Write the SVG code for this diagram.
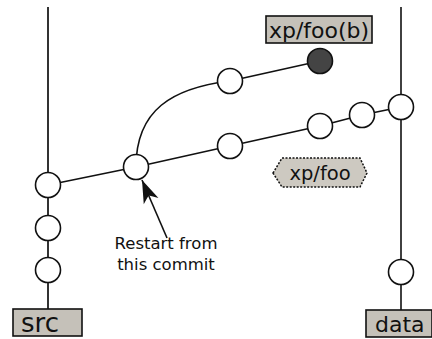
<svg xmlns="http://www.w3.org/2000/svg" width="432" height="339" viewBox="0 0 432 339">
<style>
.commit{fill:#fff;stroke:#111;stroke-width:1.6}
.head{fill:#444;stroke:#111;stroke-width:1.6}
.edge{fill:none;stroke:#111;stroke-width:1.6}
.branch{fill:#c5c1b9;stroke:#111;stroke-width:1.6}
.lbl{font-family:"DejaVu Sans",sans-serif;fill:#111}
</style>
<defs>
<marker id="arr" markerUnits="userSpaceOnUse" markerWidth="30" markerHeight="20" viewBox="-24 -10 26 20" refX="0" refY="0" orient="auto">
<path d="M0,0 L-23,-8 Q-19,-3 -17,0 Q-19,3 -23,8 Z" fill="#111"/>
</marker>
</defs>
<rect width="432" height="339" fill="#fff"/>
<g id="connectors">
<line class="edge" x1="48" y1="7" x2="48" y2="309" style="stroke:#333;stroke-width:2"/>
<line class="edge" x1="401" y1="7" x2="401" y2="310"/>
<polyline class="edge" points="48,185 136,167 230,146 320,126 362,115 401,107"/>
<path class="edge" d="M136,167 C136,110 172,88 230,81"/>
<line class="edge" x1="230" y1="81" x2="320" y2="61"/>
<line class="edge" x1="167" y1="238" x2="142" y2="180" marker-end="url(#arr)"/>
</g>
<g id="c-src1"><circle class="commit" cx="48" cy="185" r="12.5"/></g>
<g id="c-src2"><circle class="commit" cx="48" cy="228" r="12.5"/></g>
<g id="c-src3"><circle class="commit" cx="48" cy="270" r="12.5"/></g>
<g id="c-restart"><circle class="commit" cx="136" cy="167" r="12.5"/></g>
<g id="c-b1"><circle class="commit" cx="230" cy="81" r="12.5"/></g>
<g id="c-bhead"><circle class="head" cx="320" cy="61" r="12.5"/></g>
<g id="c-f1"><circle class="commit" cx="230" cy="146" r="12.5"/></g>
<g id="c-f2"><circle class="commit" cx="320" cy="126" r="12.5"/></g>
<g id="c-f3"><circle class="commit" cx="362" cy="115" r="12.5"/></g>
<g id="c-data1"><circle class="commit" cx="401" cy="107" r="12.5"/></g>
<g id="c-data2"><circle class="commit" cx="401" cy="272" r="12.5"/></g>
<g id="src">
<rect class="branch" x="13" y="309" width="69" height="27"/>
<text class="lbl" x="21" y="332" font-size="26">src</text>
</g>
<g id="data">
<rect class="branch" x="366" y="310" width="66" height="27"/>
<text class="lbl" x="375" y="332" font-size="22">data</text>
</g>
<g id="xpfoob">
<rect class="branch" x="266" y="16" width="106" height="27"/>
<text class="lbl" x="319" y="38" font-size="22" text-anchor="middle">xp/foo(b)</text>
</g>
<g id="xpfoo">
<polygon points="273,173 282,158 360,158 367,173 360,187 282,187" fill="#cdc9c1" stroke="#111" stroke-width="1.5" stroke-dasharray="2,1.5"/>
<text class="lbl" x="320" y="180" font-size="19.5" text-anchor="middle">xp/foo</text>
</g>
<g id="note">
<text class="lbl" x="166" y="249" font-size="16.5" text-anchor="middle">Restart from</text>
<text class="lbl" x="166" y="270" font-size="16.5" text-anchor="middle">this commit</text>
</g>
</svg>
